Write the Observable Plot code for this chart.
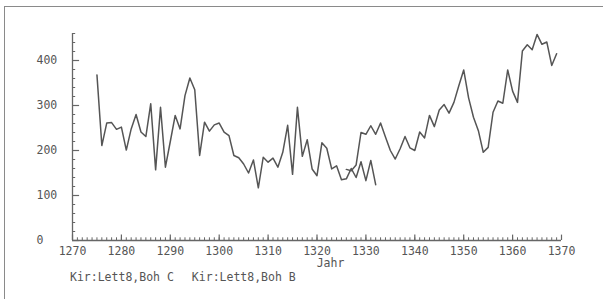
<!DOCTYPE html>
<html>
<head>
<meta charset="utf-8">
<script src="https://cdn.jsdelivr.net/npm/d3@7"></script>
<script src="https://cdn.jsdelivr.net/npm/@observablehq/plot@0.6"></script>
<style>
  html, body { margin: 0; padding: 0; background: #fff; }
  #wrap { position: relative; width: 603px; height: 299px; overflow: hidden; }
  #frame { position: absolute; left: 4px; top: 6px; right: -2px; bottom: -2px; border-top: 1.5px solid #8a8a8a; border-left: 1.5px solid #8a8a8a; }
  #chart { position: absolute; left: 0; top: 0; }
  #legend { position: absolute; left: 70px; top: 270px; font: 11.5px "DejaVu Sans Mono", monospace; color: #555; white-space: pre; line-height: 14px; }
  #legend span + span { margin-left: 18px; }
</style>
</head>
<body>
<div id="wrap">
  <div id="frame"></div>
  <div id="chart"></div>
  <div id="legend"><span>Kir:Lett8,Boh C</span><span>Kir:Lett8,Boh B</span></div>
</div>
<script>
// Series "Boh C" (early series)
const yearsC = [1275,1276,1277,1278,1279,1280,1281,1282,1283,1284,1285,1286,1287,1288,1289,1290,1291,1292,1293,1294,1295,1296,1297,1298,1299,1300,1301,1302,1303,1304,1305,1306,1307,1308,1309,1310,1311,1312,1313,1314,1315,1316,1317,1318,1319,1320,1321,1322,1323,1324,1325,1326,1327,1328,1329,1330,1331,1332];
const valuesC = [368,211,261,262,247,252,201,248,280,241,231,304,157,296,163,220,278,248,322,361,335,189,263,243,257,261,241,233,189,184,170,150,179,117,185,174,183,163,196,256,147,296,187,224,159,144,217,205,159,166,135,137,160,140,175,133,178,124];
// Series "Boh B" (late series)
const yearsB = [1326,1327,1328,1329,1330,1331,1332,1333,1334,1335,1336,1337,1338,1339,1340,1341,1342,1343,1344,1345,1346,1347,1348,1349,1350,1351,1352,1353,1354,1355,1356,1357,1358,1359,1360,1361,1362,1363,1364,1365,1366,1367,1368,1369];
const valuesB = [158,155,168,240,236,255,236,261,230,200,181,204,231,206,200,241,228,278,253,290,302,283,307,344,379,317,274,244,196,207,285,310,305,379,332,307,421,435,424,458,436,441,389,415];
// Axis ticks
const xMajor = [1270,1280,1290,1300,1310,1320,1330,1340,1350,1360,1370];
const xMinor = d3.range(1270, 1371);
const yMajor = [0,100,200,300,400];
const yMinor = d3.range(0, 461, 20);

const dataC = yearsC.map((y, i) => ({year: y, value: valuesC[i]}));
const dataB = yearsB.map((y, i) => ({year: y, value: valuesB[i]}));

const lineColor = "#555";
const axisColor = "#666";
const font = '"DejaVu Sans Mono", monospace';

const chart = Plot.plot({
  width: 603,
  height: 270,
  marginLeft: 72,
  marginRight: 42,
  marginTop: 33,
  marginBottom: 30,
  style: {fontFamily: font, fontSize: "11.5px", color: "#555", background: "transparent"},
  x: {domain: [1270, 1370], axis: null},
  y: {domain: [0, 460], axis: null},
  marks: [
    // axis lines
    Plot.ruleY([0], {x1: 1270, x2: 1370, stroke: axisColor, strokeWidth: 1.3}),
    Plot.ruleX([1270], {y1: 0, y2: 460, stroke: axisColor, strokeWidth: 1.3}),
    // x ticks (pointing up)
    Plot.ruleX(xMinor, {y1: 0, y2: 6, stroke: axisColor, strokeWidth: 1}),
    Plot.ruleX(xMajor, {y1: 0, y2: 12, stroke: axisColor, strokeWidth: 1.2}),
    // y ticks (pointing right)
    Plot.ruleY(yMinor, {x1: 1270, x2: 1270.65, stroke: axisColor, strokeWidth: 1}),
    Plot.ruleY(yMajor, {x1: 1270, x2: 1271.45, stroke: axisColor, strokeWidth: 1.2}),
    // tick labels
    Plot.text(xMajor, {x: d => d, frameAnchor: "bottom", dy: 14, text: d => String(d), fill: "#555"}),
    Plot.text(yMajor, {y: d => d, frameAnchor: "left", dx: -36, textAnchor: "start", text: d => String(d), fill: "#555"}),
    Plot.text(["Jahr"], {frameAnchor: "bottom", dx: 13.5, dy: 26, fill: "#555"}),
    // data
    Plot.line(dataC, {x: "year", y: "value", stroke: lineColor, strokeWidth: 1.5}),
    Plot.line(dataB, {x: "year", y: "value", stroke: lineColor, strokeWidth: 1.5})
  ]
});
document.getElementById("chart").appendChild(chart);
</script>
</body>
</html>
